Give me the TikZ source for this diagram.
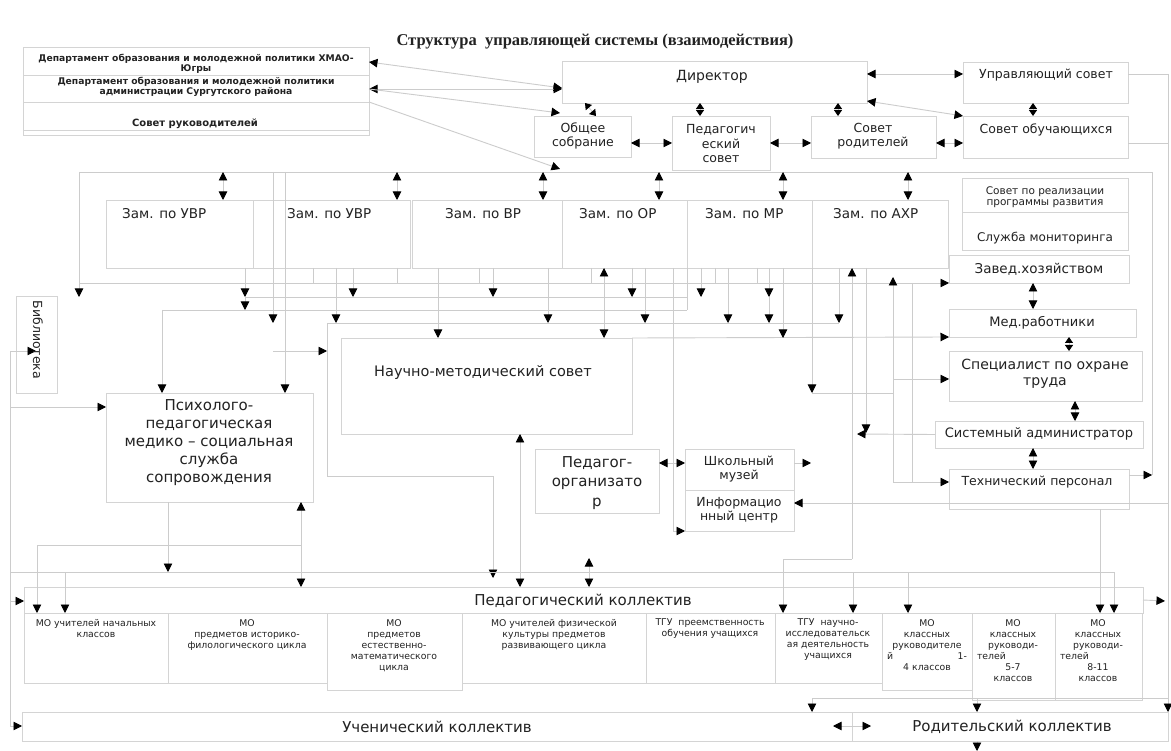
\documentclass[tikz,border=0pt]{standalone}
\usepackage{fontspec}
\setmainfont{DejaVu Sans}
\newfontfamily\titlef{Liberation Serif}
\usetikzlibrary{arrows.meta}
\definecolor{boxgray}{HTML}{D4D4D4}
\definecolor{linegray}{HTML}{CCCCCC}
\definecolor{ink}{HTML}{222222}
\newcommand\fs[2]{\fontsize{#1}{#2}\selectfont}
\newcommand\bx[5]{\node[box,minimum width=#4,minimum height=#5] (#1) at (#2,#3) {};}
\tikzset{
  tipA/.tip={Triangle[length=8.5pt,width=8.5pt,color=black]},
  tipS/.tip={Triangle[length=6pt,width=8pt,color=black]},
  box/.style={draw=boxgray,line width=0.9pt,anchor=north west,inner sep=0pt,outer sep=0pt},
  tx/.style={inner sep=0pt,align=center,text=ink},
  conn/.style={draw=linegray,line width=0.9pt},
  arr/.style={conn,-tipA},
  darr/.style={conn,tipA-tipA},
  sdarr/.style={conn,tipS-tipS},
}
\begin{document}
\begin{tikzpicture}[x=1pt,y=-1pt]
\useasboundingbox (0,0) rectangle (1171,751);
\fill[white] (0,0) rectangle (1171,751);

% ---------- boxes ----------
\bx{dept}{23}{47}{346}{88}
\draw[draw=boxgray,line width=0.9pt] (dept.west |- 0,75) -- (dept.east |- 0,75)
  (dept.west |- 0,102) -- (dept.east |- 0,102) (dept.west |- 0,130) -- (dept.east |- 0,130);
\bx{dir}{562}{61}{305}{42}
\bx{upr}{963}{62}{165}{41}
\bx{obs}{534}{116}{97}{41}
\bx{ped}{672}{116}{98}{54}
\bx{rod}{811}{116}{125}{42}
\bx{obu}{963}{116}{165}{42}
\bx{z1}{106}{200}{147}{68}
\bx{z2}{253}{200}{157}{68}
\bx{z3}{412}{200}{150}{68}
\bx{z4}{562}{200}{125}{68}
\bx{z5}{687}{200}{125}{68}
\bx{z6}{812}{200}{136}{68}
\bx{sov}{962}{178}{166}{72}
\draw[draw=boxgray,line width=0.9pt] (sov.west |- 0,212) -- (sov.east |- 0,212);
\bx{zav}{949}{255}{180}{28}
\bx{med}{949}{309}{187}{28}
\bx{spec}{949}{351}{193}{50}
\bx{sys}{935}{421}{208}{27}
\bx{tech}{949}{469}{180}{40}
\bx{bib}{16}{296}{41}{97}
\bx{psy}{106}{393}{207}{109}
\bx{nms}{341}{338}{291}{96}
\bx{porg}{535}{449}{124}{64}
\bx{muz}{685}{449}{109}{41}
\bx{info}{685}{490}{109}{41}
\bx{pk}{24}{587}{1119}{26}
\bx{mo1}{24}{613}{144}{70}
\bx{mo2}{168}{613}{159}{70}
\bx{mo3}{327}{613}{135}{77}
\bx{mo4}{462}{613}{184}{70}
\bx{mo5}{646}{613}{129}{70}
\bx{mo6}{775}{613}{107}{70}
\bx{mo7}{882}{613}{90}{77}
\bx{mo8}{972}{613}{83}{87}
\bx{mo9}{1055}{613}{87}{87}
\bx{uk}{22}{712}{830}{29}
\bx{rk}{852}{712}{316}{29}

% ---------- connectors ----------
% top-left block to director group
\draw[darr] (369,62) -- (dir.west |- 0,88);
\draw[darr] (369,89) -- (dir.west |- 0,89);
\draw[arr] (369,89) -- (560,113);
\draw[arr] (369,102) -- (560,169);
% director group
\draw[sdarr] (585,103) -- (596,116);
\draw[sdarr] (700,103) -- (700,116);
\draw[sdarr] (838,103) -- (838,116);
\draw[sdarr] (1033,103) -- (1033,116);
\draw[darr] (obs.east |- 0,143) -- (ped.west |- 0,143);
\draw[darr] (ped.east |- 0,143) -- (rod.west |- 0,143);
\draw[darr] (rod.east |- 0,143) -- (obu.west |- 0,143);
\draw[darr] (dir.east |- 0,74) -- (upr.west |- 0,74);
\draw[darr] (867,101) -- (963,116);
% right spine
\coordinate (rs1) at (1168,74);
\draw[conn] (upr.east |- rs1) -- (rs1);
\draw[conn] (obu.east |- 0,143) -- (1168,143);
\draw[arr] (rs1) -- (1168,712);
% bus y=172
\coordinate (b0) at (79,172);
\coordinate (b1) at (1152,172);
\draw[conn] (b0) -- (b1) -- (1152,475);
\draw[arr] (tech.east |- 0,475) -- (1152,475);
\draw[arr] (b0) -- (79,297);
\foreach \x in {223,397,543,659,783,908} \draw[darr] (\x,172) -- (\x,200);
\draw[arr] (273,172) -- (273,323);
\draw[arr] (285,172) -- (285,393);
% horizontal buses under the deputies
\draw[conn] (79,283) -- (893,283);
\draw[arr] (893,283) -- (zav.south west);
\draw[conn] (245,297) -- (687,297);
\draw[conn] (162,310) -- (687,310);
\draw[conn] (687,268) -- (687,310);
\draw[conn] (327,323) -- (839,323);
\draw[arr] (nms.north east) -- (med.south west);
\foreach \x in {313,397,479,591,715,757} \draw[conn] (\x,268) -- (\x,283);
\foreach \x in {245,353,493,632,701,769} \draw[arr] (\x,268) -- (\x,297);
\draw[arr] (245,297) -- (245,310);
\foreach \x in {336,548,645,728,839} \draw[arr] (\x,268) -- (\x,323);
\draw[arr] (769,297) -- (769,323);
\draw[arr] (438,268) -- (438,338);
\draw[arr] (783,268) -- (783,338);
\draw[darr] (604,268) -- (604,338);
\draw[arr] (162,310) -- (162,393);
% left spine
\draw[conn] (10,351) -- (10,726);
\draw[arr] (10,351) -- (36,351);
\draw[arr] (10,407) -- (psy.west |- 0,407);
\draw[arr] (10,601) -- (pk.west |- 0,601);
\draw[arr] (10,726) -- (uk.west |- 0,726);
% NMS frame
\draw[arr] (273,351) -- (327,351);
\draw[conn] (327,323) -- (327,476) -- (493,476);
\draw[arr] (493,476) -- (493,578);
\draw[darr] (520,434) -- (520,587);
\draw[darr] (589,558) -- (589,587);
% psy bottom
\draw[arr] (168,502) -- (168,572);
\draw[darr] (301,502) -- (301,587);
\draw[conn] (37,545) -- (301,545);
\draw[arr] (37,545) -- (37,613);
% bus y=572
\draw[conn] (10,572) -- (1114,572);
\foreach \x in {65,853,908,1114} \draw[arr] (\x,572) -- (\x,613);
% information centre line
\draw[conn] (673,268) -- (673,531);
\draw[arr] (673,531) -- (info.west |- 0,531);
\draw[darr] (porg.east |- 0,463) -- (muz.west |- 0,463);
\draw[arr] (muz.east |- 0,463) -- (811,463);
\draw[arr] (1168,503) -- (info.east |- 0,503);
% right middle
\draw[arr] (812,268) -- (812,393);
\draw[conn] (812,393) -- (893,393);
\draw[conn] (893,283) -- (893,482);
\draw[arr] (893,296) -- (893,277);
\draw[arr] (893,379) -- (spec.west |- 0,379);
\draw[arr] (893,482) -- (tech.west |- 0,482);
\draw[conn] (912,283) -- (912,482);
\draw[arr] (866,268) -- (866,433);
\draw[arr] (sys.west) -- (857,434);
\draw[arr] (852,559) -- (852,268);
\draw[conn] (852,559) -- (783,559);
\draw[arr] (783,559) -- (783,613);
\draw[arr] (1100,509) -- (1100,613);
% right column chain
\draw[darr] (1033,283) -- (1033,309);
\draw[sdarr] (1069,337) -- (1069,351);
\draw[darr] (1075,401) -- (1075,421);
\draw[darr] (1033,448) -- (1033,469);
% bottom
\draw[arr] (pk.east) -- (1165,601);
\draw[conn] (812,698) -- (1168,698);
\draw[arr] (812,698) -- (812,712);
\draw[arr] (977,698) -- (977,712);
\draw[darr] (833,726) -- (871,726);
\draw[arr] (977,741) -- (977,751);

% ---------- texts ----------
\node[tx,font=\titlef\bfseries\fs{16.5}{18}] (title) at (595,42) {Структура~~управляющей системы (взаимодействия)};
\node[tx,font=\bfseries\fs{9.2}{10.5}] (t1) at (196,64) {Департамент образования и молодежной политики ХМАО-\\Югры};
\node[tx,font=\bfseries\fs{9.2}{10.5}] (t2) at (196,87) {Департамент образования и молодежной политики\\администрации Сургутского района};
\node[tx,font=\bfseries\fs{10}{12}] (t3) at (195,124) {Совет руководителей};
\node[tx,font=\fs{14}{16}] (tdir) at (712,77) {Директор};
\node[tx,font=\fs{12.5}{14}] (tupr) at (1046,75) {Управляющий совет};
\node[tx,font=\fs{12.5}{14}] (tobs) at (583,136) {Общее\\собрание};
\node[tx,font=\fs{12.5}{14.5}] (tped) at (721,144) {Педагогич\\еский\\совет};
\node[tx,font=\fs{12.5}{14}] (trod) at (873,136) {Совет\\родителей};
\node[tx,font=\fs{12.5}{14}] (tobu) at (1046,130) {Совет обучающихся};
\node[tx,font=\fs{13.5}{15},anchor=west] (tz1) at (122,214) {Зам. по УВР};
\node[tx,font=\fs{13.5}{15},anchor=west] (tz2) at (287,214) {Зам. по УВР};
\node[tx,font=\fs{13.5}{15},anchor=west] (tz3) at (445,214) {Зам. по ВР};
\node[tx,font=\fs{13.5}{15},anchor=west] (tz4) at (579,214) {Зам. по ОР};
\node[tx,font=\fs{13.5}{15},anchor=west] (tz5) at (705,214) {Зам. по МР};
\node[tx,font=\fs{13.5}{15},anchor=west] (tz6) at (833,214) {Зам. по АХР};
\node[tx,font=\fs{10.5}{11.5}] (tsov) at (1045,197) {Совет по реализации\\программы развития};
\node[tx,font=\fs{12}{14}] (tmon) at (1045,238) {Служба мониторинга};
\node[tx,font=\fs{13.5}{15}] (tzav) at (1039,269) {Завед.хозяйством};
\node[tx,font=\fs{13}{15}] (tmed) at (1042,323) {Мед.работники};
\node[tx,font=\fs{14}{16}] (tspec) at (1045,374) {Специалист по охране\\труда};
\node[tx,font=\fs{13}{15}] (tsys) at (1039,434) {Системный администратор};
\node[tx,font=\fs{12.5}{14}] (ttech) at (1037,482) {Технический персонал};
\node[tx,font=\fs{12.5}{14},rotate=-90] (tbib) at (38,340) {Библиотека};
\node[tx,font=\fs{15}{18}] (tpsy) at (209,443) {Психолого-\\педагогическая\\медико – социальная\\служба\\сопровождения};
\node[tx,font=\fs{14.5}{16}] (tnms) at (483,373) {Научно-методический совет};
\node[tx,font=\fs{15}{19.5}] (tporg) at (597,483) {Педагог-\\организато\\р};
\node[tx,font=\fs{12.5}{14}] (tmuz) at (739,469) {Школьный\\музей};
\node[tx,font=\fs{12.5}{14.5}] (tinfo) at (739,510) {Информацио\\нный центр};
\node[tx,font=\fs{15}{17}] (tpk) at (583,601) {Педагогический коллектив};
\node[tx,font=\fs{9.3}{11},anchor=north] (tmo1) at (96,619) {МО учителей начальных\\классов};
\node[tx,font=\fs{9.3}{11},anchor=north] (tmo2) at (247,619) {МО\\предметов историко-\\филологического цикла};
\node[tx,font=\fs{9.3}{11},anchor=north] (tmo3) at (394,619) {МО\\предметов\\естественно-\\математического\\цикла};
\node[tx,font=\fs{9.3}{11},anchor=north] (tmo4) at (554,619) {МО учителей физической\\культуры предметов\\развивающего цикла};
\node[tx,font=\fs{9.3}{11},anchor=north] (tmo5) at (710,619) {ТГУ~~преемственность\\обучения учащихся};
\node[tx,font=\fs{9.3}{11},anchor=north] (tmo6) at (828,619) {ТГУ~~научно-\\исследовательск\\ая деятельность\\учащихся};
\node[tx,font=\fs{9.3}{11},anchor=north,text width=80] (tmo7) at (927,619) {МО\\классных\\руководителе\\й\hfill 1-\\4 классов};
\node[tx,font=\fs{9.3}{11},anchor=north,text width=72] (tmo8) at (1013,619) {МО\\классных\\руководи-\\телей\hfill\mbox{}\\5-7\\классов};
\node[tx,font=\fs{9.3}{11},anchor=north,text width=76] (tmo9) at (1098,619) {МО\\классных\\руководи-\\телей\hfill\mbox{}\\8-11\\классов};
\node[tx,font=\fs{15}{17}] (tuk) at (437,727) {Ученический коллектив};
\node[tx,font=\fs{15}{17}] (trk) at (1012,727) {Родительский коллектив};
\end{tikzpicture}
\end{document}
